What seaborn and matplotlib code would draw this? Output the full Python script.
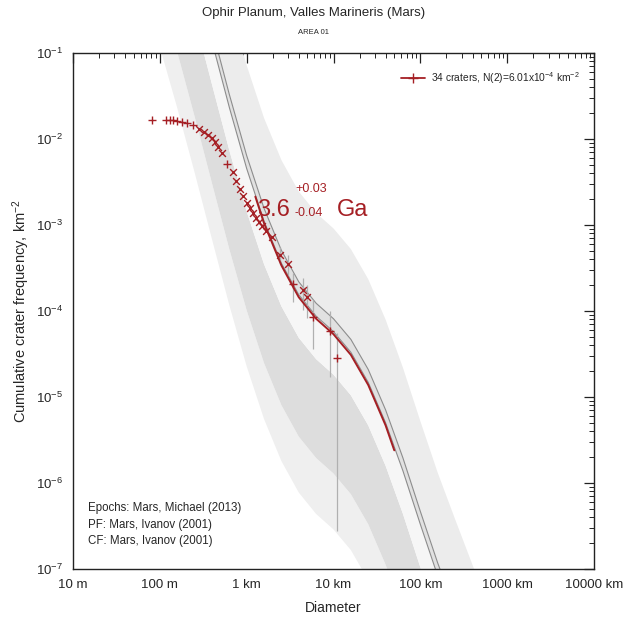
import matplotlib
matplotlib.use("Agg")
import matplotlib.pyplot as plt
from matplotlib.lines import Line2D
from matplotlib.ticker import FixedLocator, LogLocator, NullFormatter
import numpy as np
import pandas as pd
import seaborn as sns

# cumulative crater counts: diameter (km) and cumulative frequency (km^-2)
diam_km = [0.0813, 0.1178, 0.1312, 0.1419, 0.1578, 0.1803, 0.2056, 0.2409, 0.2831, 0.3228,
           0.3589, 0.3990, 0.4325, 0.4688, 0.5212, 0.5943, 0.6966, 0.7551, 0.8395, 0.9099,
           1.012, 1.095, 1.186, 1.283, 1.390, 1.504, 1.674, 1.963, 2.427, 2.999,
           3.425, 4.467, 4.966, 5.821, 9.141, 10.99]
cum_freq = [0.01663, 0.01663, 0.01663, 0.01663, 0.01618, 0.01577, 0.01535, 0.01455, 0.01306, 0.01205,
            0.01113, 0.01028, 0.00923, 0.00807, 0.00688, 0.00512, 0.00413, 0.00325, 0.00262, 0.00217,
            0.00180, 0.00158, 0.00138, 0.00121, 0.00108, 0.000973, 0.000851, 0.000725, 0.000448, 0.000352,
            0.000206, 0.000175, 0.000146, 8.51e-5, 5.85e-5, 2.84e-5]

# error bars of the largest bins (lower / upper ends)
err_low = [3.5e-4, 2.6e-4, 1.27e-4, 1.03e-4, 8.3e-5, 3.6e-5, 1.7e-5, 2.8e-7]
err_high = [5.5e-4, 4.5e-4, 2.77e-4, 2.42e-4, 2.0e-4, 1.34e-4, 1.0e-4, 5.6e-5]

# reference isochron (log10 D km, log10 N km^-2)
iso_logd = [-1.2, -1.0, -0.8, -0.6, -0.4, -0.2, 0.0, 0.2, 0.4, 0.6, 0.8,
            1.0, 1.2, 1.4, 1.6, 1.8, 2.0, 2.2, 2.4, 2.6, 2.8]
iso_logn = [2.046, 1.371, 0.663, -0.087, -0.863, -1.631, -2.343, -2.956, -3.445, -3.811, -4.06,
            -4.24, -4.48, -4.83, -5.30, -5.86, -6.48, -7.08, -7.62, -8.15, -8.68]

# epoch bands, as log10 offsets from the reference isochron
band_lo = [-2.3, -1.65, -0.5, 0.0, 0.15]
band_hi = [-1.65, -0.5, 0.0, 0.15, 1.2]
boundary_offsets = [0.0, 0.15]

# fitted isochron, 3.6 Ga
fit_logd = [0.1, 0.2, 0.4, 0.6, 0.8, 1.0, 1.2, 1.4, 1.6, 1.7]
fit_logn = [-2.67, -2.98, -3.47, -3.84, -4.09, -4.27, -4.51, -4.86, -5.33, -5.62]

x_ticks = [0.01, 0.1, 1, 10, 100, 1000, 10000]
x_ticklabels = ["10 m", "100 m", "1 km", "10 km", "100 km", "1000 km", "10000 km"]
y_ticks = [1e-7, 1e-6, 1e-5, 1e-4, 1e-3, 1e-2, 1e-1]

RED = "#a51f24"

sns.set_style("white")
plt.rcParams["font.family"] = ["Liberation Sans", "DejaVu Sans"]
plt.rcParams["mathtext.fontset"] = "custom"
plt.rcParams["mathtext.rm"] = "Liberation Sans"
plt.rcParams["mathtext.it"] = "Liberation Sans:italic"
plt.rcParams["mathtext.sf"] = "Liberation Sans"

fig = plt.figure(figsize=(6.28, 6.26), dpi=100)
ax = fig.add_axes([73 / 628, 1 - 569 / 626, 521 / 628, 516 / 626])
ax.set_xscale("log")
ax.set_yscale("log")

iso_d = 10 ** np.array(iso_logd)
iso_n = np.array(iso_logn)

# epoch shading
band_colors = ["#efefef", "#dddddd", "#f6f6f6", "#e1e1e1", "#ececec"]
for lo, hi, col in zip(band_lo, band_hi, band_colors):
    ax.fill_between(iso_d, 10 ** (iso_n + lo), 10 ** (iso_n + hi), color=col, lw=0, zorder=1)

for off in boundary_offsets:
    sns.lineplot(x=iso_d, y=10 ** (iso_n + off), ax=ax, color="#8c8c8c", lw=0.8,
                 sort=False, zorder=2)

# error bars
ax.vlines(diam_km[-len(err_low):], err_low, err_high, color="#b0b0b0", lw=0.9, zorder=3)

# fitted isochron
sns.lineplot(x=10 ** np.array(fit_logd), y=10 ** np.array(fit_logn), ax=ax, color=RED,
             lw=1.4, sort=False, zorder=4)

# crater bins
pts = pd.DataFrame({"D": diam_km, "N": cum_freq})
plus_idx = [0, 1, 2, 3, 4, 5, 6, 7, 15, 30, 33, 34, 35]
cross_idx = [i for i in range(len(pts)) if i not in plus_idx]
sns.scatterplot(data=pts.iloc[plus_idx], x="D", y="N", ax=ax, marker="+", color=RED,
                s=36, linewidth=1.0, zorder=5)
sns.scatterplot(data=pts.iloc[cross_idx], x="D", y="N", ax=ax, marker="x", color=RED,
                s=24, linewidth=1.0, zorder=5)

ax.set_xlim(0.01, 10000)
ax.set_ylim(1e-7, 1e-1)

ax.xaxis.set_major_locator(FixedLocator(x_ticks))
ax.set_xticklabels(x_ticklabels)
ax.xaxis.set_minor_locator(LogLocator(base=10, subs=range(2, 10), numticks=20))
ax.xaxis.set_minor_formatter(NullFormatter())
ax.yaxis.set_major_locator(FixedLocator(y_ticks))
ax.yaxis.set_minor_locator(LogLocator(base=10, subs=range(2, 10), numticks=20))
ax.yaxis.set_minor_formatter(NullFormatter())
ax.tick_params(which="both", direction="in", top=True, right=True, color="#222222")
ax.tick_params(which="major", length=7, width=0.9, labelsize=9.5, pad=7)
ax.tick_params(which="minor", length=3.5, width=0.7)
for sp in ax.spines.values():
    sp.set_color("#222222")
    sp.set_linewidth(1.0)

ax.set_xlabel("Diameter", fontsize=10)
ax.set_ylabel("Cumulative crater frequency, km$^{-2}$", fontsize=10.5)
ax.xaxis.set_label_coords(0.5, -0.062)
ax.yaxis.set_label_coords(-0.078, 0.5)

fig.text(0.5, 1 - 13 / 626, "Ophir Planum, Valles Marineris (Mars)", ha="center",
         va="center", fontsize=9.5)
fig.text(0.5, 1 - 33 / 626, "AREA 01", ha="center", va="center", fontsize=5.5)

# age label
ax.text(0.353, 0.696, "3.6", transform=ax.transAxes, color=RED, fontsize=17,
        ha="left", va="center")
ax.text(0.426, 0.736, "+0.03", transform=ax.transAxes, color=RED, fontsize=9,
        ha="left", va="center")
ax.text(0.426, 0.690, "-0.04", transform=ax.transAxes, color=RED, fontsize=9,
        ha="left", va="center")
ax.text(0.507, 0.696, "Ga", transform=ax.transAxes, color=RED, fontsize=17,
        ha="left", va="center")

handle = Line2D([], [], color=RED, lw=1.3, marker="+", markersize=7, markeredgewidth=1.0)
ax.legend(handles=[handle], labels=["34 craters, N(2)=6.01x10$^{-4}$ km$^{-2}$"],
          loc="upper right", bbox_to_anchor=(0.99, 0.985), frameon=False, fontsize=7.4,
          handlelength=2.3, handletextpad=0.6)

for yy, txt in zip([0.118, 0.085, 0.054],
                   ["Epochs: Mars, Michael (2013)", "PF: Mars, Ivanov (2001)",
                    "CF: Mars, Ivanov (2001)"]):
    ax.text(0.029, yy, txt, transform=ax.transAxes, fontsize=8.3, ha="left", va="center")

fig.savefig("out.png", dpi=100)
plt.close(fig)
